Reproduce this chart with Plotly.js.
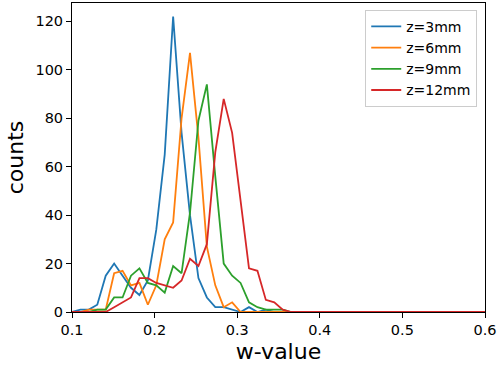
<!DOCTYPE html>
<html>
<head>
<meta charset="utf-8">
<script src="https://cdn.plot.ly/plotly-3.0.1.min.js"></script>
<style>html,body{margin:0;padding:0;background:#fff;}#chart{width:501px;height:365px;}</style>
</head>
<body>
<div id="chart"></div>
<script>
// bin positions (w-value)
const wValues = [0.1, 0.11020, 0.12041, 0.13061, 0.14082, 0.15102, 0.16122, 0.17143, 0.18163, 0.19184,
  0.20204, 0.21224, 0.22245, 0.23265, 0.24286, 0.25306, 0.26327, 0.27347, 0.28367, 0.29388,
  0.30408, 0.31429, 0.32449, 0.33469, 0.34490, 0.35510, 0.36531, 0.37551, 0.38571, 0.39592,
  0.40612, 0.41633, 0.42653, 0.43673, 0.44694, 0.45714, 0.46735, 0.47755, 0.48776, 0.49796,
  0.50816, 0.51837, 0.52857, 0.53878, 0.54898, 0.55918, 0.56939, 0.57959, 0.58980, 0.6];

const seriesNames = ["z=3mm", "z=6mm", "z=9mm", "z=12mm"];

const counts3mm = [0, 1, 1, 3, 15, 20, 15, 10, 7, 13,
  34, 65, 122, 74, 40, 14, 6, 2, 2, 1,
  0, 2, 0, 1, 0, 0, 0, 0, 0, 0,
  0, 0, 0, 0, 0, 0, 0, 0, 0, 0,
  0, 0, 0, 0, 0, 0, 0, 0, 0, 0];

const counts6mm = [0, 0, 1, 1, 1, 16, 17, 11, 12, 3,
  11, 30, 37, 80, 107, 72, 27, 11, 2, 4,
  0, 0, 0, 0, 0, 0, 0, 0, 0, 0,
  0, 0, 0, 0, 0, 0, 0, 0, 0, 0,
  0, 0, 0, 0, 0, 0, 0, 0, 0, 0];

const counts9mm = [0, 0, 0, 1, 1, 6, 6, 15, 18, 12,
  11, 8, 19, 16, 41, 79, 94, 56, 20, 15,
  12, 4, 2, 1, 1, 1, 0, 0, 0, 0,
  0, 0, 0, 0, 0, 0, 0, 0, 0, 0,
  0, 0, 0, 0, 0, 0, 0, 0, 0, 0];

const counts12mm = [0, 0, 0, 0, 0, 2, 4, 6, 14, 14,
  12, 11, 10, 13, 22, 19, 28, 66, 88, 74,
  46, 18, 17, 5, 4, 1, 0, 0, 0, 0,
  0, 0, 0, 0, 0, 0, 0, 0, 0, 0,
  0, 0, 0, 0, 0, 0, 0, 0, 0, 0];

const xTicks = [0.1, 0.2, 0.3, 0.4, 0.5, 0.6];
const xTickLabels = ["0.1", "0.2", "0.3", "0.4", "0.5", "0.6"];
const yTicks = [0, 20, 40, 60, 80, 100, 120];
const yTickLabels = ["0", "20", "40", "60", "80", "100", "120"];

const colors = ["#1f77b4", "#ff7f0e", "#2ca02c", "#d62728"];
const allCounts = [counts3mm, counts6mm, counts9mm, counts12mm];

const traces = allCounts.map((c, i) => ({
  x: wValues, y: c, type: "scatter", mode: "lines", name: seriesNames[i],
  line: {color: colors[i], width: 1.8}
}));

const font = "DejaVu Sans, sans-serif";
const layout = {
  width: 501, height: 365,
  margin: {l: 72, r: 16, t: 3, b: 53},
  paper_bgcolor: "#fff", plot_bgcolor: "#fff",
  showlegend: true,
  legend: {
    x: 0.71, y: 0.978, xanchor: "left", yanchor: "top",
    bgcolor: "rgba(255,255,255,0.8)", bordercolor: "#cccccc", borderwidth: 1,
    font: {family: font, size: 14, color: "#000"},
    itemwidth: 30, tracegroupgap: 0
  },
  xaxis: {
    range: [0.1, 0.6], tickvals: xTicks, ticktext: xTickLabels,
    showgrid: false, zeroline: false, showline: true, mirror: true,
    linecolor: "#000", linewidth: 1, ticks: "outside", ticklen: 5, tickcolor: "#000",
    tickfont: {family: font, size: 14.5, color: "#000"},
    title: {text: "w-value", font: {family: font, size: 22, color: "#000"}, standoff: 6},
    automargin: false
  },
  yaxis: {
    range: [0, 127.6], tickvals: yTicks, ticktext: yTickLabels,
    showgrid: false, zeroline: false, showline: true, mirror: true,
    linecolor: "#000", linewidth: 1, ticks: "outside", ticklen: 5, tickcolor: "#000",
    tickfont: {family: font, size: 14.5, color: "#000"},
    title: {text: "counts", font: {family: font, size: 22, color: "#000"}, standoff: 5},
    automargin: false
  }
};

Plotly.newPlot("chart", traces, layout, {displayModeBar: false, staticPlot: true});
</script>
</body>
</html>
